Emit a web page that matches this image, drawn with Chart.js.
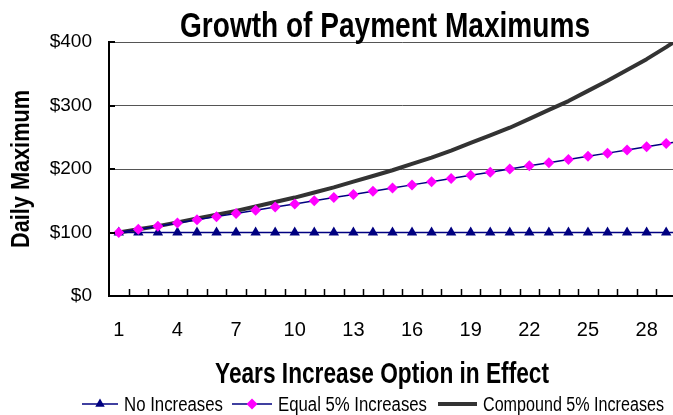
<!DOCTYPE html>
<html><head><meta charset="utf-8">
<script src="https://cdn.jsdelivr.net/npm/chart.js@4/dist/chart.umd.min.js"></script>
<style>
html,body{margin:0;padding:0;background:#fff;overflow:hidden;}
#wrap{width:673px;height:415px;overflow:hidden;position:relative;background:#fff;}
#box{width:770px;height:415px;position:absolute;left:0;top:0;}
</style></head><body>
<div id="wrap"><div id="box"><canvas id="c" width="770" height="415"></canvas></div></div>
<script>
const years = [1,2,3,4,5,6,7,8,9,10,11,12,13,14,15,16,17,18,19,20,21,22,23,24,25,26,27,28,29,30];
const noIncreases = [100,100,100,100,100,100,100,100,100,100,100,100,100,100,100,100,100,100,100,100,100,100,100,100,100,100,100,100,100,100];
const equalIncreases = [100,105,110,115,120,125,130,135,140,145,150,155,160,165,170,175,180,185,190,195,200,205,210,215,220,225,230,235,240,245];
const compoundIncreases = [100,105,110,116,122,128,134,141,148,155,163,171,180,189,198,208,218,229,241,253,265,279,293,307,323,339,356,373,392,412];
const xTickLabels = [1,4,7,10,13,16,19,22,25,28];
const yTickValues = [0,100,200,300,400];
const seriesNames = ['No Increases','Equal 5% Increases','Compound 5% Increases'];
const chartTitle = 'Growth of Payment Maximums';
const xAxisTitle = 'Years Increase Option in Effect';
const yAxisTitle = 'Daily Maximum';

const FONT = "'Liberation Sans', Arial, sans-serif";
const NAVY = '#000080', MAG = '#FF00FF', DARK = '#333333';

// draw text squeezed horizontally to a given width
function fitText(ctx, text, x, y, font, targetW, align, baseline) {
  ctx.save();
  ctx.font = font;
  ctx.fillStyle = '#000';
  ctx.textAlign = align || 'center';
  ctx.textBaseline = baseline || 'alphabetic';
  const w = ctx.measureText(text).width;
  const sx = targetW / w;
  ctx.translate(x, y);
  ctx.scale(sx, 1);
  ctx.fillText(text, 0, 0);
  ctx.restore();
}

const decor = {
  id: 'decor',
  afterDraw(chart) {
    const ctx = chart.ctx;
    const xs = chart.scales.x, ys = chart.scales.y;
    const area = chart.chartArea;
    // inner tick marks on x axis (category boundaries)
    const w = xs.getPixelForValue(1) - xs.getPixelForValue(0);
    ctx.save();
    ctx.strokeStyle = '#000';
    ctx.lineWidth = 1.5;
    ctx.beginPath();
    for (let i = 1; i < years.length; i++) {
      const px = Math.round(xs.getPixelForValue(i) - w / 2) + 0.5;
      ctx.moveTo(px, area.bottom);
      ctx.lineTo(px, area.bottom - 7);
    }
    ctx.stroke();
    // inner tick marks on y axis
    ctx.lineWidth = 2;
    ctx.beginPath();
    yTickValues.forEach(v => {
      if (v === 0) return;
      const py = Math.round(ys.getPixelForValue(v));
      ctx.moveTo(area.left, py);
      ctx.lineTo(area.left + 6, py);
    });
    ctx.stroke();
    ctx.restore();

    // titles
    fitText(ctx, chartTitle, 385, 37, "bold 35px " + FONT, 410);
    fitText(ctx, xAxisTitle, 382, 383, "bold 29px " + FONT, 334);
    ctx.save();
    ctx.translate(29, 169);
    ctx.rotate(-Math.PI / 2);
    fitText(ctx, yAxisTitle, 0, 0, "bold 26px " + FONT, 158);
    ctx.restore();

    // legend
    const ly = 404;
    const items = [
      {x1: 82, x2: 118, tx: 124, tw: 99, color: NAVY, lw: 1.5, style: 'triangle', fill: NAVY, r: 5.5},
      {x1: 232, x2: 272, tx: 278, tw: 149, color: NAVY, lw: 1.5, style: 'rectRot', fill: MAG, r: 5.5},
      {x1: 438, x2: 477, tx: 483, tw: 181, color: DARK, lw: 4, style: null}
    ];
    items.forEach((it, i) => {
      ctx.save();
      ctx.strokeStyle = it.color;
      ctx.lineWidth = it.lw;
      ctx.beginPath();
      ctx.moveTo(it.x1, ly);
      ctx.lineTo(it.x2, ly);
      ctx.stroke();
      if (it.style) {
        ctx.fillStyle = it.fill;
        ctx.strokeStyle = it.fill;
        Chart.helpers.drawPoint(ctx, {pointStyle: it.style, radius: it.r, rotation: 0, borderWidth: 0}, (it.x1 + it.x2) / 2, ly);
      }
      ctx.restore();
      fitText(ctx, seriesNames[i], it.tx, ly + 7, "20px " + FONT, it.tw, 'left');
    });
  }
};

new Chart(document.getElementById('c'), {
  type: 'line',
  data: {
    labels: years,
    datasets: [
      {label: seriesNames[0], data: noIncreases, borderColor: NAVY, borderWidth: 1.5,
       pointStyle: 'triangle', pointRadius: 6, pointBackgroundColor: NAVY, pointBorderColor: NAVY,
       pointBorderWidth: 0, order: 2, tension: 0},
      {label: seriesNames[1], data: equalIncreases, borderColor: NAVY, borderWidth: 1.5,
       pointStyle: 'rectRot', pointRadius: 5.5, pointBackgroundColor: MAG, pointBorderColor: MAG,
       pointBorderWidth: 0, order: 1, tension: 0},
      {label: seriesNames[2], data: compoundIncreases, borderColor: DARK, borderWidth: 4,
       pointRadius: 0, order: 3, tension: 0, borderJoinStyle: 'round'}
    ]
  },
  options: {
    responsive: false,
    animation: false,
    devicePixelRatio: 1,
    layout: {padding: {left: 0, right: 74.5, top: 42, bottom: 0}},
    plugins: {legend: {display: false}, tooltip: {enabled: false}, title: {display: false}},
    scales: {
      x: {
        type: 'category',
        offset: true,
        grid: {display: false, drawTicks: false},
        border: {display: true, color: '#000', width: 2},
        ticks: {
          autoSkip: false, maxRotation: 0, minRotation: 0, color: '#000', padding: 22,
          font: {family: FONT, size: 20},
          callback: function(v, i) { return xTickLabels.includes(years[i]) ? String(years[i]) : ''; }
        },
        afterFit(s) { s.height = 119; }
      },
      y: {
        min: 0, max: 400,
        grid: {color: '#555', lineWidth: 1, drawTicks: false},
        border: {display: true, color: '#000', width: 2},
        ticks: {
          stepSize: 100, color: '#000', padding: 17,
          font: {family: FONT, size: 19},
          callback: v => '$' + v
        },
        afterFit(s) { s.width = 109; }
      }
    }
  },
  plugins: [decor]
});
</script>
</body></html>
